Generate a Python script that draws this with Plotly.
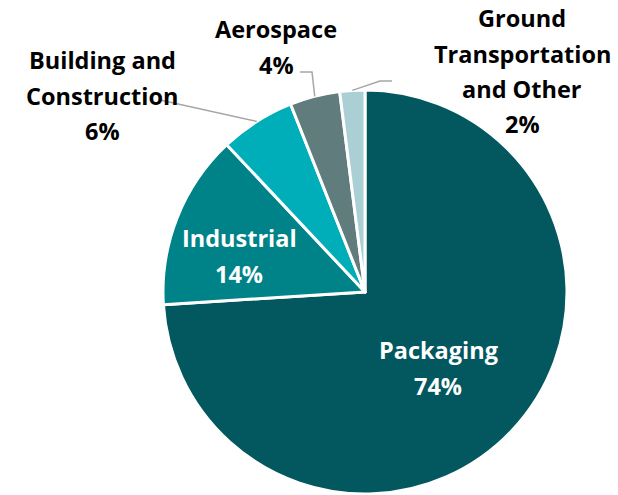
import math
import plotly.graph_objects as go

W, H = 618, 495

categories = ["Packaging", "Industrial", "Building and Construction", "Aerospace",
              "Ground Transportation and Other"]
values = [74, 14, 6, 4, 2]
colors = ["#02585E", "#008388", "#00AEB9", "#607C7D", "#AAD0D6"]
# label lines as displayed
label_lines = [["Packaging"], ["Industrial"], ["Building and", "Construction"],
               ["Aerospace"], ["Ground", "Transportation", "and Other"]]

# layout (pixels)
CX, CY, R = 365, 292, 202
label_pos = [(438, 350), (239, 238), (102, 60), (276, 29), (522, 18)]  # first line center
inside = [True, True, False, False, False]
LINE = 35.5
FONT = "Open Sans"
FS = 23.5
leader_end = [None, None, [(160, 100)], [(312, 72), (300, 72)], [(380, 81), (392, 81)]]

def px(x, y):
    return x / W, 1 - y / H

fig = go.Figure()
dx0, dy0 = px(CX - R, CY + R)
dx1, dy1 = px(CX + R, CY - R)
fig.add_trace(go.Pie(
    labels=categories, values=values, sort=False, direction="clockwise", rotation=0,
    marker=dict(colors=colors, line=dict(color="white", width=3)),
    textinfo="none", hoverinfo="label+percent", showlegend=False,
    domain=dict(x=[dx0, dx1], y=[dy0, dy1]),
))

total = sum(values)
annotations = []
shapes = []
cum = 0
for i, v in enumerate(values):
    lines = label_lines[i] + [f"{round(100 * v / total)}%"]
    x0, y0 = label_pos[i]
    col = "white" if inside[i] else "black"
    for k, t in enumerate(lines):
        ax, ay = px(x0, y0 + k * LINE)
        annotations.append(dict(text=f"<b>{t}</b>", x=ax, y=ay, xref="paper", yref="paper",
                                xanchor="center", yanchor="middle", showarrow=False,
                                font=dict(family=FONT, size=FS, color=col)))
    mid = (cum + v / 2) / total * 2 * math.pi
    cum += v
    if leader_end[i]:
        ex, ey = CX + R * math.sin(mid), CY - R * math.cos(mid)
        pts = [(ex, ey)] + leader_end[i]
        path = "M " + " L ".join(f"{px(a, b)[0]},{px(a, b)[1]}" for a, b in pts)
        shapes.append(dict(type="path", path=path, xref="paper", yref="paper",
                           line=dict(color="#A6A6A6", width=1.5)))

fig.update_layout(width=W, height=H, margin=dict(l=0, r=0, t=0, b=0),
                  paper_bgcolor="white", plot_bgcolor="white",
                  annotations=annotations, shapes=shapes)
fig.write_html("out.html")
